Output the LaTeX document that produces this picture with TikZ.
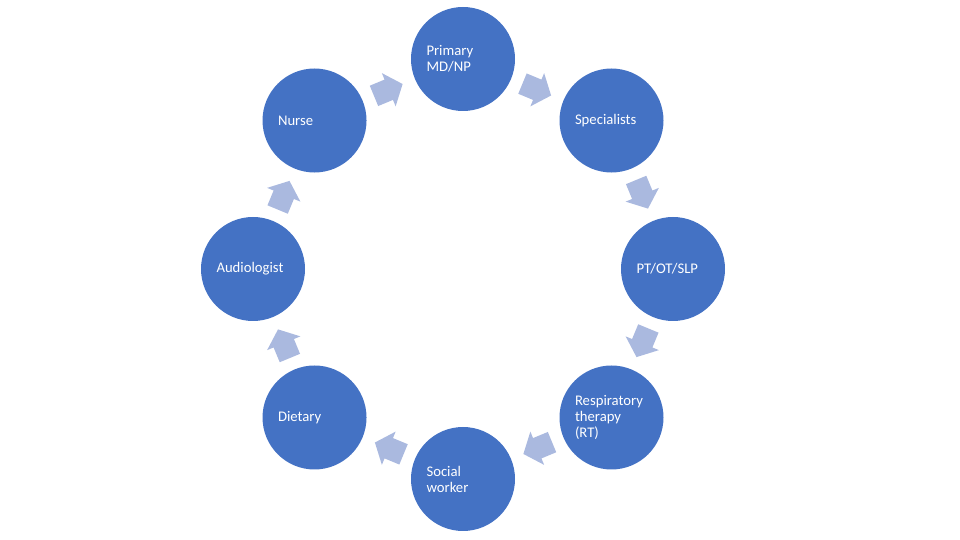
\documentclass[tikz,border=0pt]{standalone}
\usepackage{fontspec}
\setmainfont{Carlito}
\usetikzlibrary{calc}
\definecolor{circblue}{HTML}{4472C4}
\definecolor{arrblue}{HTML}{AAB9DF}
\tikzset{
  circ/.style={circle, fill=circblue, draw=none, minimum size=104pt, inner sep=0pt,
    text width=73pt, align=left, text=white, font=\fontsize{14.7}{16}\selectfont},
  cyclearrow/.pic={
    \fill[arrblue] (-16pt,-11pt) -- (0pt,-11pt) -- (0pt,-18pt) -- (15pt,0pt) -- (0pt,18pt) -- (0pt,11pt) -- (-16pt,11pt) -- cycle;
  }
}
\begin{document}
\begin{tikzpicture}
\useasboundingbox (0,0) rectangle (960pt,540pt);
\coordinate (c) at (463pt,271pt);
\node[circ] (n1) at ($(c)+(90:210pt)$) {Primary MD/NP};
\node[circ] (n2) at ($(c)+(45:210pt)$) {Specialists};
\node[circ] (n3) at ($(c)+(0:210pt)$) {PT/OT/SLP};
\node[circ] (n4) at ($(c)+(-45:210pt)$) {Respiratory therapy (RT)};
\node[circ] (n5) at ($(c)+(-90:210pt)$) {Social worker};
\node[circ] (n6) at ($(c)+(-135:210pt)$) {Dietary};
\node[circ] (n7) at ($(c)+(180:210pt)$) {Audiologist};
\node[circ] (n8) at ($(c)+(135:210pt)$) {Nurse};
\pic[rotate=-22.5] at ($(n1)!0.5!(n2)$) {cyclearrow};
\pic[rotate=-67.5] at ($(n2)!0.5!(n3)$) {cyclearrow};
\pic[rotate=-112.5] at ($(n3)!0.5!(n4)$) {cyclearrow};
\pic[rotate=-157.5] at ($(n4)!0.5!(n5)$) {cyclearrow};
\pic[rotate=157.5] at ($(n5)!0.5!(n6)$) {cyclearrow};
\pic[rotate=112.5] at ($(n6)!0.5!(n7)$) {cyclearrow};
\pic[rotate=67.5] at ($(n7)!0.5!(n8)$) {cyclearrow};
\pic[rotate=22.5] at ($(n8)!0.5!(n1)$) {cyclearrow};
\end{tikzpicture}
\end{document}
